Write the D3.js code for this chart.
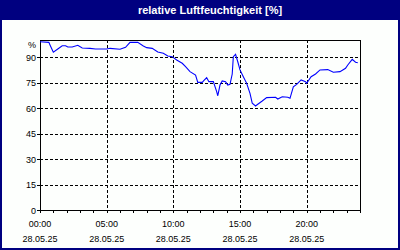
<!DOCTYPE html>
<html>
<head>
<meta charset="UTF-8">
<title>relative Luftfeuchtigkeit</title>
<script src="https://cdn.jsdelivr.net/npm/d3@7"></script>
<style>
* { margin: 0; padding: 0; }
body { background: #fff; }
#chart { display: block; }
</style>
</head>
<body>
<svg id="chart"></svg>
<script>
// Messwerte (Uhrzeit, Feuchte in %)
const times = ["00:00","00:40","00:45","01:00","01:20","01:40","01:55","02:05","02:25","02:50",
  "03:10","03:45","04:10","05:00","05:15","06:00","06:25","06:45","07:20","07:45",
  "08:00","08:25","08:50","09:15","09:35","09:55","10:15","10:40","10:55","11:15",
  "11:40","11:50","12:10","12:20","12:30","12:40","13:00","13:15","13:20","13:30",
  "13:40","13:55","14:05","14:15","14:25","14:30","14:40","14:50","15:00","15:15",
  "15:30","15:45","15:55","16:10","16:20","16:40","17:00","17:40","17:50","18:10",
  "18:35","18:45","19:00","19:15","19:35","19:55","20:00","20:20","20:40","21:00",
  "21:35","22:00","22:30","22:55","23:05","23:25","23:40","23:50"];
const humidity = [99.0,98.6,97.1,92.8,94.7,96.6,96.6,95.9,95.9,96.9,
  95.3,95.1,94.7,94.7,95.1,94.6,95.7,98.6,98.6,96.5,
  95.5,95.1,92.9,92.2,90.6,90.2,88.2,86.3,84.3,81.4,
  79.4,75.1,75.1,76.5,77.8,75.5,75.5,69.6,67.2,73.5,
  75.9,75.5,73.5,73.9,80.0,90.2,91.6,87.2,82.4,78.4,
  74.5,68.6,62.8,61.2,62.2,64.1,66.1,66.3,65.3,66.6,
  66.3,65.7,72.5,73.9,76.5,75.5,74.5,78.4,80.0,82.4,
  82.6,81.0,81.4,83.4,85.3,88.6,86.9,86.6];

const yTicks = [0, 15, 30, 45, 60, 75, 90];
const xTicks = [0, 5, 10, 15, 20];
const xTickTimes = ["00:00", "05:00", "10:00", "15:00", "20:00"];
const dateLabel = "28.05.25";
const title = "relative Luftfeuchtigkeit [%]";

const W = 400, H = 250;
const svg = d3.select("#chart").attr("width", W).attr("height", H);

svg.append("rect").attr("x", 1).attr("y", 1).attr("width", W - 2).attr("height", H - 2)
  .attr("fill", "#fdfffd").attr("stroke", "#000080").attr("stroke-width", 2);

svg.append("rect").attr("x", 0).attr("y", 0).attr("width", W).attr("height", 20)
  .attr("fill", "#000080");
svg.append("text").attr("x", 210).attr("y", 14)
  .attr("text-anchor", "middle")
  .style("font-family", "'Liberation Sans', Arial, sans-serif")
  .style("font-size", "11px").style("font-weight", "bold")
  .attr("fill", "#fff").text(title);

const x = d3.scaleLinear().domain([0, 24]).range([40, 360]);
const y = d3.scaleLinear().domain([0, 100]).range([210, 40]);

const toH = s => { const p = s.split(":"); return +p[0] + +p[1] / 60; };
const data = times.map((t, i) => ({ h: toH(t), v: humidity[i] }));

const font = "'Liberation Sans', Arial, sans-serif";

// Gitter
const g = svg.append("g").attr("shape-rendering", "crispEdges");
g.selectAll(".hg").data(yTicks.filter(d => d > 0)).enter().append("line")
  .attr("x1", x(0)).attr("x2", x(24))
  .attr("y1", d => Math.round(y(d)) + 0.5).attr("y2", d => Math.round(y(d)) + 0.5)
  .attr("stroke", "#000").attr("stroke-dasharray", "3,2");
g.selectAll(".vg").data(xTicks.filter(d => d > 0)).enter().append("line")
  .attr("y1", y(100)).attr("y2", y(0))
  .attr("x1", d => Math.round(x(d)) + 0.5).attr("x2", d => Math.round(x(d)) + 0.5)
  .attr("stroke", "#000").attr("stroke-dasharray", "3,2");

// Rahmen
g.append("rect").attr("x", x(0) + 0.5).attr("y", y(100) + 0.5)
  .attr("width", x(24) - x(0)).attr("height", y(0) - y(100))
  .attr("fill", "none").attr("stroke", "#000");

// Stundenstriche
g.selectAll(".mt").data(d3.range(0, 25)).enter().append("line")
  .attr("x1", d => Math.round(x(d)) + 0.5).attr("x2", d => Math.round(x(d)) + 0.5)
  .attr("y1", y(0)).attr("y2", y(0) + 3).attr("stroke", "#000");
g.selectAll(".yt").data(yTicks).enter().append("line")
  .attr("x1", x(0) - 3).attr("x2", x(0))
  .attr("y1", d => Math.round(y(d)) + 0.5).attr("y2", d => Math.round(y(d)) + 0.5)
  .attr("stroke", "#000");

// Beschriftung
svg.selectAll(".yl").data(yTicks).enter().append("text")
  .attr("x", 36).attr("y", d => y(d) + 3.5).attr("text-anchor", "end")
  .style("font-family", font).style("font-size", "9px").attr("fill", "#000")
  .text(d => d);
svg.append("text").attr("x", 36).attr("y", 47.5).attr("text-anchor", "end")
  .style("font-family", font).style("font-size", "9px").attr("fill", "#000").text("%");

svg.selectAll(".xl").data(xTicks).enter().append("text")
  .attr("x", d => x(d)).attr("y", 226.5).attr("text-anchor", "middle")
  .style("font-family", font).style("font-size", "9px").attr("fill", "#000")
  .text((d, i) => xTickTimes[i]);
svg.selectAll(".xd").data(xTicks).enter().append("text")
  .attr("x", d => x(d)).attr("y", 241.5).attr("text-anchor", "middle")
  .style("font-family", font).style("font-size", "9px").attr("fill", "#000")
  .text(dateLabel);

// Kurve
svg.append("path").datum(data)
  .attr("fill", "none").attr("stroke", "#0000ff").attr("stroke-width", 1.1)
  .attr("d", d3.line().x(d => x(d.h)).y(d => y(d.v)));
</script>
</body>
</html>
